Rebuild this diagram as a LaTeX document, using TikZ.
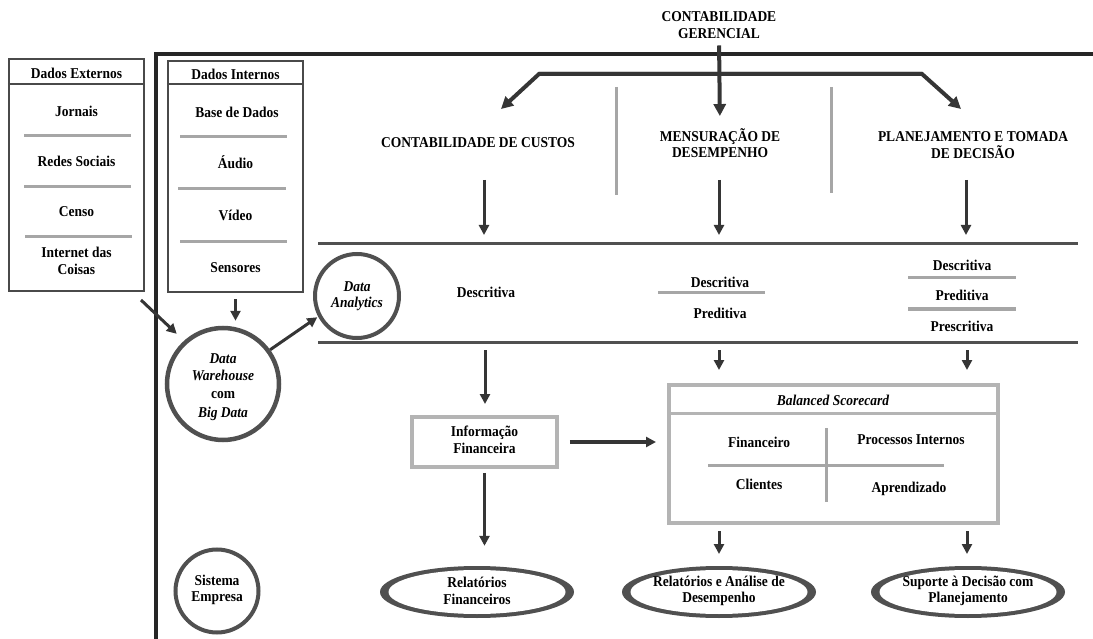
\documentclass[tikz,border=0pt]{standalone}
\usepackage{fontspec}
\setmainfont{Liberation Serif}[FakeStretch=0.9]
\usetikzlibrary{arrows.meta,shapes.geometric}
\definecolor{dk}{HTML}{353535}
\definecolor{bx}{HTML}{4A4A4A}
\definecolor{ringc}{HTML}{505050}
\definecolor{lg}{HTML}{A6A6A6}
\definecolor{lb}{HTML}{B4B4B4}
\begin{document}
\begin{tikzpicture}[x=1pt,y=-1pt,
  t/.style={font=\fontsize{15}{16.5}\selectfont\bfseries, align=center, inner sep=0pt},
  ti/.style={font=\fontsize{15}{16.5}\selectfont\bfseries\itshape, align=center, inner sep=0pt},
  arr/.style={draw=dk, line width=3pt, -{Triangle[length=10pt,width=10pt]}},
  bigarr/.style={draw=dk, line width=4pt, line join=miter, -{Triangle[length=12pt,width=12pt]}},
  sepl/.style={draw=lg, line width=3pt},
  box/.style={draw=bx, line width=2.5pt, inner sep=0pt},
  lbox/.style={draw=lb, line width=3.5pt, inner sep=0pt},
  hline/.style={draw=ringc, line width=3pt},
  ring/.style={circle, draw=ringc, line width=4.5pt, inner sep=0pt, align=center},
  ringout/.style={ellipse, fill=ringc, inner sep=0pt, minimum width=194pt, minimum height=52pt},
  ringin/.style={ellipse, fill=white, inner sep=0pt, minimum width=177pt, minimum height=44pt},
]
\useasboundingbox (0,0) rectangle (1093,639);

% outer frame
\coordinate (fBL) at (156,641);
\coordinate (fTL) at (156,54);
\coordinate (fTR) at (1096,54);
\draw[draw=black!85, line width=4pt, line join=miter] (fBL) -- (fTL) -- (fTR);

% Dados Externos
\node[box, minimum width=135pt, minimum height=232pt] (dext) at (76.5,175) {};
\draw[draw=bx, line width=2.5pt] (dext.west |- 0,84) -- (dext.east |- 0,84);
\node[t] (dexth) at (76.5,73) {Dados Externos};
\node[t] (jor) at (76.5,111) {Jornais};
\draw[sepl] (24,136) -- (131,136);
\node[t] (red) at (76.5,161) {Redes Sociais};
\draw[sepl] (24,187) -- (131,187);
\node[t] (cen) at (76.5,212) {Censo};
\draw[sepl] (25,237) -- (132,237);
\node[t] (iot) at (76.5,261) {Internet das\\Coisas};

% Dados Internos
\node[box, minimum width=135pt, minimum height=231pt] (dint) at (235.5,176.5) {};
\draw[draw=bx, line width=2.5pt] (dint.west |- 0,84) -- (dint.east |- 0,84);
\node[t] (dinth) at (235.5,74) {Dados Internos};
\node[t] (bdd) at (237,112) {Base de Dados};
\draw[sepl] (180,137) -- (287,137);
\node[t] (aud) at (235.5,162) {Áudio};
\draw[sepl] (178,189) -- (286,189);
\node[t] (vid) at (235.5,215) {Vídeo};
\draw[sepl] (180,242) -- (287,242);
\node[t] (sen) at (235.5,268) {Sensores};

% Data Warehouse and Data Analytics
\node[ring, minimum size=112pt] (dw) at (223,384) {};
\node[ti] (dwt) at (223,387) {Data\\Warehouse\\[2pt]{\upshape com}\\[2pt]Big Data};
\node[ring, minimum size=84pt, line width=4pt] (da) at (357,296) {};
\node[ti] (dat) at (357,296) {Data\\Analytics};

\draw[arr] ([yshift=-6pt]dint.south) -- (dint.south |- dw.north) [shorten >=5pt];
\coordinate (extout) at (141,300);
\draw[arr, shorten >=10pt] (extout) -- (dw.132);
\draw[arr, shorten >=1pt] (dw.36) -- (da.208);

% horizontal bands
\coordinate (h1a) at (318,244); \coordinate (h1b) at (1078,244);
\coordinate (h2a) at (318,342); \coordinate (h2b) at (1078,342);
\draw[hline] (h1a) -- (h1b);
\draw[hline] (h2a) -- (h2b);

% top title
\node[t] (cg) at (719,25) {CONTABILIDADE\\GERENCIAL};
\coordinate (bl) at (539,74); \coordinate (br) at (922,74);
\coordinate (tl) at (501,109); \coordinate (tr) at (961,109);
\draw[bigarr] (br) -- (bl) -- (tl);
\draw[bigarr] (bl) -- (br) -- (tr);
\node[t] (cc) at (478,143) {CONTABILIDADE DE CUSTOS};
\node[t] (mens) at (720,143) {MENSURAÇÃO DE\\DESEMPENHO};
\node[t] (plan) at (973,145) {PLANEJAMENTO E TOMADA\\DE DECISÃO};
\draw[bigarr, shorten <=7pt, shorten >=12pt] (cg.south) -- (mens.north);

\draw[sepl] (616,87) -- (616,195);
\draw[sepl] (831,87) -- (831,193);

% arrows into band
\coordinate (a1s) at (484,180); \coordinate (a1e) at (484,235);
\coordinate (a2s) at (719,180); \coordinate (a2e) at (719,235);
\coordinate (a3s) at (966,180); \coordinate (a3e) at (966,235);
\draw[arr] (a1s) -- (a1e);
\draw[arr] (a2s) -- (a2e);
\draw[arr] (a3s) -- (a3e);

% band content
\node[t] (d1) at (486,292) {Descritiva};
\node[t] (d2) at (720,282) {Descritiva};
\draw[sepl] (658,293) -- (765,293);
\node[t] (p2) at (720,313) {Preditiva};
\node[t] (d3) at (962,265) {Descritiva};
\draw[sepl] (908,278) -- (1016,278);
\node[t] (p3) at (962,295) {Preditiva};
\draw[sepl] (908,309) -- (1016,309);
\node[t] (ps3) at (962,326) {Prescritiva};

% Informação Financeira
\node[lbox, minimum width=145pt, minimum height=50pt] (info) at (484.5,442) {};
\node[t] (infot) at (484.5,440) {Informação\\Financeira};

% Balanced Scorecard
\node[lbox, line width=4pt, minimum width=329pt, minimum height=138pt] (bsc) at (833.5,454) {};
\draw[draw=lb, line width=3pt] (bsc.west |- 0,413) -- (bsc.east |- 0,413);
\node[ti] (bsct) at (833,400) {Balanced Scorecard};
\draw[sepl] (826,428) -- (826,502);
\draw[sepl] (708,465) -- (944,465);
\node[t] (fin) at (759,442) {Financeiro};
\node[t] (proc) at (911,440) {Processos Internos};
\node[t] (cli) at (759,484) {Clientes};
\node[t] (apr) at (909,489) {Aprendizado};

% arrows below band
\coordinate (b1s) at (485,350); \coordinate (b1e) at (485,404);
\coordinate (b2s) at (719,350); \coordinate (b2e) at (719,370);
\coordinate (b3s) at (967,350); \coordinate (b3e) at (967,370);
\draw[arr] (b1s) -- (b1e);
\draw[arr] (b2s) -- (b2e);
\draw[arr] (b3s) -- (b3e);

\draw[arr, line width=3.5pt, shorten <=11pt, shorten >=11pt] (info.east) -- (info.east -| bsc.west);

% bottom ovals
\node[ringout] (rf) at (477,592) {};
\node[ringin] (rfi) at (rf) {};
\node[t] (rft) at (477,591) {Relatórios\\Financeiros};
\node[ringout] (rd) at (719,592) {};
\node[ringin] (rdi) at (rd) {};
\node[t] (rdt) at (719,591) {Relatórios e Análise de\\Desempenho};
\node[ringout] (rs) at (968,592) {};
\node[ringin] (rsi) at (rs) {};
\node[t] (rst) at (968,591) {Suporte à Decisão com\\Planejamento};
\node[ring, minimum size=83pt, line width=4pt] (se) at (217,591) {};
\node[t] (set) at (217,590) {Sistema\\Empresa};

\draw[arr, line width=3.5pt, shorten <=4pt, shorten >=20pt] (info.south) -- (rf.north -| info.south);
\coordinate (c2s) at (719,531); \coordinate (c2e) at (719,554);
\coordinate (c3s) at (967,531); \coordinate (c3e) at (967,554);
\draw[arr] (c2s) -- (c2e);
\draw[arr] (c3s) -- (c3e);
\end{tikzpicture}
\end{document}
